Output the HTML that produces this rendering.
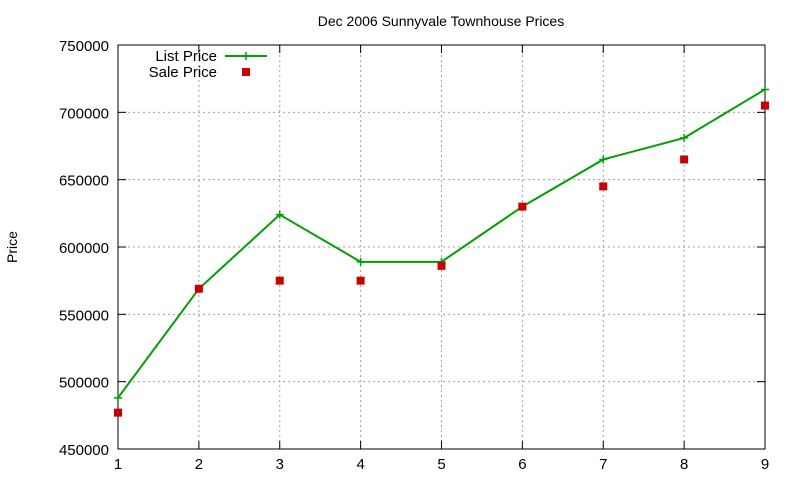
<!DOCTYPE html>
<html><head><meta charset="utf-8"><style>
body{margin:0;background:#fff;width:800px;height:480px;overflow:hidden}
svg text{font-family:"Liberation Sans",sans-serif;fill:#000}
</style></head><body>
<svg id="c" width="800" height="480"></svg>
<script>
const categories=[1,2,3,4,5,6,7,8,9];
const listPrice=[488000,569000,624000,589000,589000,630000,665000,681000,717000];
const salePrice=[477000,569000,575000,575000,586000,630000,645000,665000,705000];
const yTicks=[450000,500000,550000,600000,650000,700000,750000];
const L=118,R=765,T=45,B=449,ymin=450000,ymax=750000;
const xs=v=>L+(v-1)/(8)*(R-L);
const ys=v=>B-(v-ymin)/(ymax-ymin)*(B-T);
const svg=document.getElementById('c');const NS='http://www.w3.org/2000/svg';
function mk(t,a,txt){const e=document.createElementNS(NS,t);for(const k in a)e.setAttribute(k,a[k]);if(txt!==undefined)e.textContent=txt;svg.appendChild(e);return e;}
let e;
e=mk('text',{x:441,y:26,'text-anchor':'middle','font-size':14},'Dec 2006 Sunnyvale Townhouse Prices');


e=mk('text',{x:17,y:247,'text-anchor':'middle','font-size':14,transform:'rotate(-90 17 247)'},'Price');


yTicks.forEach(v=>{const y=ys(v);
 if(v>ymin&&v<ymax){e=mk('line',{x1:L,x2:R,y1:y,y2:y,stroke:'#a0a0a0','stroke-dasharray':'2,3','stroke-width':1});
 
 }
 mk('line',{x1:L,x2:L+8,y1:y,y2:y,stroke:'#000'});mk('line',{x1:R,x2:R-8,y1:y,y2:y,stroke:'#000'});
 e=mk('text',{x:L-9,y:y+6,'text-anchor':'end','font-size':15},String(v));
 
 });
categories.forEach(c=>{const x=xs(c);
 if(c>1&&c<9){e=mk('line',{x1:x,x2:x,y1:T,y2:B,stroke:'#a0a0a0','stroke-dasharray':'2,3','stroke-width':1});
 
 }
 mk('line',{x1:x,x2:x,y1:B,y2:B-8,stroke:'#000'});mk('line',{x1:x,x2:x,y1:T,y2:T+8,stroke:'#000'});
 e=mk('text',{x:x,y:B+20,'text-anchor':'middle','font-size':15},String(c));
 
 });
e=mk('rect',{x:L,y:T,width:R-L,height:B-T,fill:'none',stroke:'#000','stroke-width':1});


e=mk('polyline',{points:categories.map((c,i)=>xs(c)+','+ys(listPrice[i])).join(' '),fill:'none',stroke:'#00a000','stroke-width':2});


categories.forEach((c,i)=>{const x=xs(c),y=ys(listPrice[i]);
 e=mk('path',{d:`M${x-4},${y}H${x+4}M${x},${y-4}V${y+4}`,stroke:'#00a000','stroke-width':1.5});
 
 });
categories.forEach((c,i)=>{const x=xs(c),y=ys(salePrice[i]);
 e=mk('rect',{x:x-4,y:y-4,width:8,height:8,fill:'#cc0000'});
 
 });
e=mk('text',{x:217,y:61,'text-anchor':'end','font-size':15},'List Price');


mk('line',{x1:225,x2:267,y1:56,y2:56,stroke:'#00a000','stroke-width':2});
mk('path',{d:'M242,56H250M246,52V60',stroke:'#00a000','stroke-width':1.5});
e=mk('text',{x:217,y:77,'text-anchor':'end','font-size':15},'Sale Price');


mk('rect',{x:242,y:68,width:8,height:8,fill:'#cc0000'});
</script>
</body></html>
